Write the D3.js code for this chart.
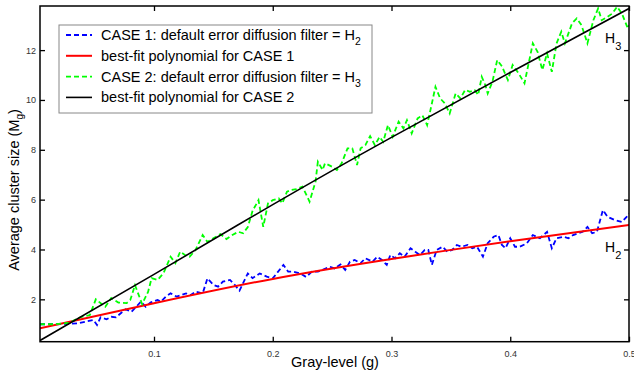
<!DOCTYPE html>
<html><head><meta charset="utf-8">
<script src="https://cdn.jsdelivr.net/npm/d3@7"></script>
<style>body{margin:0;background:#fff}svg{display:block}</style>
</head><body><div id="chart"></div>
<script>
// ---- data ----
const case1Gray = [0.004,0.017,0.028,0.036,0.042,0.049,0.052,0.055,0.060,0.064,0.068,0.072,0.076,0.081,0.085,0.089,0.093,0.097,0.103,0.106,0.110,0.114,0.119,0.123,0.127,0.131,0.135,0.141,0.145,0.150,0.154,0.158,0.164,0.168,0.172,0.179,0.183,0.189,0.195,0.200,0.209,0.213,0.217,0.223,0.228,0.233,0.238,0.242,0.248,0.252,0.257,0.261,0.265,0.269,0.274,0.278,0.284,0.288,0.292,0.296,0.299,0.303,0.307,0.311,0.316,0.320,0.324,0.328,0.331,0.334,0.338,0.343,0.347,0.351,0.355,0.359,0.364,0.368,0.372,0.377,0.381,0.386,0.390,0.393,0.396,0.400,0.404,0.408,0.414,0.419,0.425,0.431,0.435,0.439,0.445,0.449,0.453,0.457,0.461,0.465,0.469,0.473,0.478,0.482,0.488,0.494,0.498,0.500];
const case1Size = [1.00,1.00,1.02,1.04,1.10,1.17,0.97,1.28,1.20,1.30,1.28,1.44,1.60,1.50,1.70,1.91,1.70,1.87,1.97,1.91,2.11,2.24,2.11,2.17,2.24,2.17,2.31,2.24,2.84,2.58,2.51,2.71,2.78,2.58,2.35,3.04,2.85,3.04,2.91,2.84,3.38,3.11,3.11,3.04,2.90,3.11,3.11,3.18,3.31,3.24,3.40,3.18,3.51,3.58,3.45,3.65,3.51,3.71,3.58,3.38,3.78,3.65,3.85,3.71,4.05,3.91,3.78,3.98,3.98,3.38,3.98,4.11,3.91,3.98,4.18,4.11,4.18,4.05,4.11,3.71,4.25,4.51,4.58,4.18,4.05,4.45,4.11,4.11,4.25,4.58,4.45,4.71,4.05,4.45,4.51,4.45,4.58,4.65,4.71,4.91,4.65,4.71,5.58,5.31,5.18,5.11,5.31,5.45];
const case2Gray = [0.004,0.017,0.028,0.039,0.046,0.051,0.059,0.064,0.070,0.077,0.080,0.084,0.090,0.095,0.098,0.103,0.108,0.114,0.118,0.122,0.126,0.130,0.135,0.141,0.145,0.150,0.156,0.161,0.166,0.171,0.175,0.179,0.183,0.188,0.192,0.196,0.200,0.205,0.208,0.212,0.216,0.220,0.225,0.231,0.236,0.238,0.242,0.244,0.250,0.254,0.258,0.263,0.267,0.271,0.274,0.278,0.282,0.286,0.290,0.293,0.297,0.301,0.306,0.310,0.313,0.317,0.322,0.326,0.330,0.334,0.337,0.341,0.345,0.349,0.354,0.358,0.362,0.366,0.370,0.373,0.376,0.379,0.381,0.385,0.389,0.393,0.398,0.402,0.407,0.412,0.419,0.423,0.427,0.431,0.435,0.439,0.443,0.446,0.452,0.456,0.460,0.465,0.470,0.474,0.477,0.482,0.486,0.490,0.494,0.499,0.500];
const case2Size = [1.00,1.00,1.05,1.30,1.37,2.00,1.70,2.05,1.87,1.85,1.97,2.57,1.81,2.30,2.85,2.78,3.05,3.71,3.45,3.91,3.78,3.71,3.98,4.58,4.30,4.45,4.62,4.42,4.58,4.71,4.65,4.90,5.55,5.98,4.91,5.85,5.98,6.05,5.85,6.32,6.39,6.42,6.52,5.92,6.72,7.52,7.19,7.46,7.32,7.19,7.46,8.06,8.06,7.39,8.06,8.19,8.55,8.19,8.52,8.32,8.99,8.52,9.13,8.86,9.19,8.66,9.26,9.39,8.99,9.86,10.53,10.06,9.86,9.46,10.26,10.06,10.40,10.33,10.40,10.20,10.93,10.60,10.26,10.73,11.60,11.35,10.80,11.40,11.07,10.67,12.27,11.93,11.20,11.87,11.13,12.27,12.74,12.27,13.07,13.27,13.00,12.27,13.20,13.67,13.20,13.34,13.47,13.74,13.47,12.87,13.00];
const fitGray = [0.004,0.1,0.2,0.3,0.4,0.5];
const fit1Size = [0.84,1.84,2.82,3.62,4.33,4.98];
const fit2Size = [0.35,3.00,5.80,8.50,11.10,13.67];
const xTicks = [0.1,0.2,0.3,0.4,0.5];
const yTicks = [2,4,6,8,10,12];
const legendLabels = [
  ["CASE 1: default error diffusion filter = H","2"],
  ["best-fit polynomial for CASE 1",""],
  ["CASE 2: default error diffusion filter = H","3"],
  ["best-fit polynomial for CASE 2",""]
];

// ---- chart ----
const W = 634, H = 372;
const m = {left:40, right:5, top:6, bottom:30.3};
const svg = d3.select("#chart").append("svg").attr("width",W).attr("height",H)
  .style("font-family","'Liberation Sans', Arial, sans-serif");
const x = d3.scaleLinear().domain([0.004,0.5]).range([m.left, W-m.right]);
const y = d3.scaleLinear().domain([0.3,13.77]).range([H-m.bottom, m.top]);

svg.append("defs").append("clipPath").attr("id","clip").append("rect")
  .attr("x",m.left).attr("y",m.top).attr("width",W-m.right-m.left).attr("height",H-m.bottom-m.top);

const styles = [
  {gray:case1Gray, size:case1Size, color:"#0000ff", dash:"5,3", w:1.8, curve:d3.curveLinear},
  {gray:fitGray, size:fit1Size, color:"#ff0000", dash:null, w:2, curve:d3.curveNatural},
  {gray:case2Gray, size:case2Size, color:"#00ff00", dash:"5,3", w:1.8, curve:d3.curveLinear},
  {gray:fitGray, size:fit2Size, color:"#000000", dash:null, w:1.6, curve:d3.curveNatural}
];
const g = svg.append("g").attr("clip-path","url(#clip)");
styles.forEach(s => {
  const pts = s.gray.map((v,i)=>[v, s.size[i]]);
  g.append("path").datum(pts)
    .attr("fill","none").attr("stroke",s.color).attr("stroke-width",s.w)
    .attr("stroke-dasharray",s.dash)
    .attr("d", d3.line().x(d=>x(d[0])).y(d=>y(d[1])).curve(s.curve));
});

// axes (inward ticks on all sides)
const fmtX = d3.format(".1f");
function styleAxis(sel){ sel.select(".domain").remove(); sel.selectAll("text").attr("fill","#333").style("font-size","9px"); sel.selectAll("line").attr("stroke","#000").attr("stroke-width",1.3); }
svg.append("g").attr("transform",`translate(0,${H-m.bottom})`)
  .call(d3.axisBottom(x).tickValues(xTicks).tickFormat(fmtX).tickSize(-5).tickPadding(9)).call(styleAxis);
svg.append("g").attr("transform",`translate(0,${m.top})`)
  .call(d3.axisTop(x).tickValues(xTicks).tickFormat("").tickSize(-5)).call(styleAxis);
svg.append("g").attr("transform",`translate(${m.left},0)`)
  .call(d3.axisLeft(y).tickValues(yTicks).tickFormat(d3.format("d")).tickSize(-5).tickPadding(4)).call(styleAxis);
svg.append("g").attr("transform",`translate(${W-m.right},0)`)
  .call(d3.axisRight(y).tickValues(yTicks).tickFormat("").tickSize(-5)).call(styleAxis);
svg.append("rect").attr("x",m.left).attr("y",m.top).attr("width",W-m.right-m.left).attr("height",H-m.bottom-m.top)
  .attr("fill","none").attr("stroke","#000").attr("stroke-width",1.5);

// curve labels
function hLabel(px,py,sub){
  const t = svg.append("text").attr("x",px).attr("y",py).style("font-size","14px").attr("fill","#000");
  t.append("tspan").text("H");
  t.append("tspan").attr("dy",7).style("font-size","11px").text(sub);
}
hLabel(605, y(12.5)+5, "3");
hLabel(605, y(4.1)+5, "2");

// legend
const lg = svg.append("g");
lg.append("rect").attr("x",59).attr("y",25).attr("width",313).attr("height",88)
  .attr("fill","#fff").attr("stroke","#888").attr("stroke-width",1);
legendLabels.forEach((lab,i)=>{
  const cy = 35 + i*20.8;
  const s = styles[i];
  lg.append("line").attr("x1",66).attr("x2",92).attr("y1",cy).attr("y2",cy)
    .attr("stroke",s.color).attr("stroke-width",s.w).attr("stroke-dasharray",s.dash);
  const t = lg.append("text").attr("x",101).attr("y",cy+5).style("font-size","14.5px").attr("fill","#000");
  t.append("tspan").text(lab[0]);
  if(lab[1]) t.append("tspan").attr("dy",5).style("font-size","10.5px").text(lab[1]);
});

// axis titles
svg.append("text").attr("x",335).attr("y",367).attr("text-anchor","middle").style("font-size","14.5px").text("Gray-level (g)");
const yl = svg.append("text").attr("transform",`translate(19,190) rotate(-90)`)
  .attr("text-anchor","middle").style("font-size","14.5px");
yl.append("tspan").text("Average cluster size (M");
yl.append("tspan").attr("dy",4).style("font-size","10px").text("g");
yl.append("tspan").attr("dy",-4).text(")");
</script></body></html>
